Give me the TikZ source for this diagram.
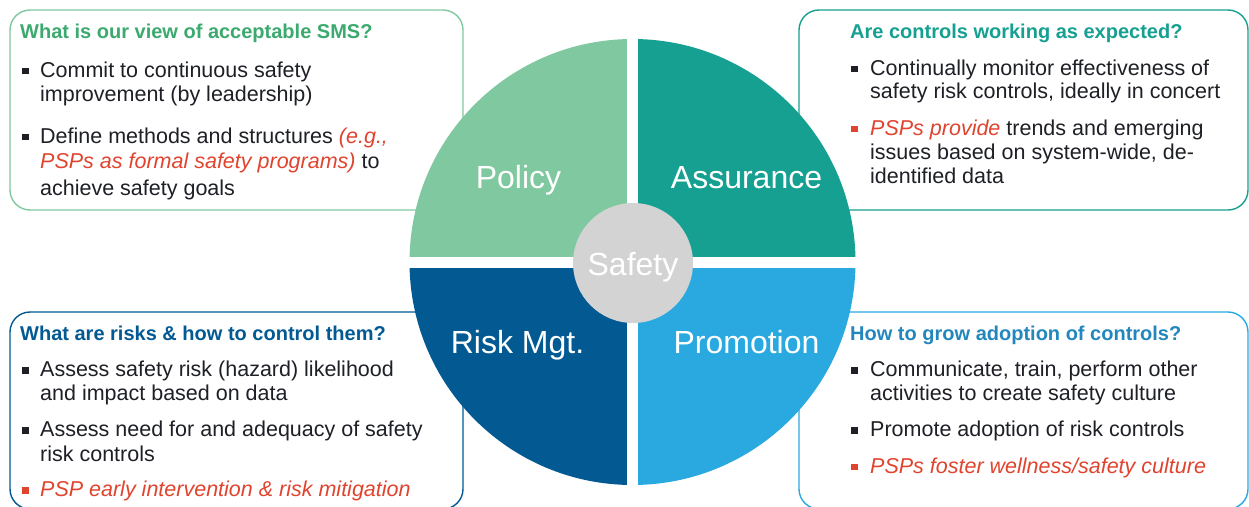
\documentclass[tikz,border=0pt]{standalone}
\usepackage{fontspec}
\setmainfont{Liberation Sans}
\usepackage{tikz}
\usepackage{xcolor}
\definecolor{polVerde}{RGB}{128,201,160}
\definecolor{titVerde}{RGB}{60,170,110}
\definecolor{assTeal}{RGB}{22,160,145}
\definecolor{riscoAzul}{RGB}{3,90,147}
\definecolor{promoAzul}{RGB}{41,169,224}
\definecolor{titAzul}{RGB}{35,135,190}
\definecolor{hubCinza}{RGB}{211,211,211}
\definecolor{pspVermelho}{RGB}{224,68,46}
\definecolor{texto}{RGB}{30,32,38}
\newcommand{\psp}[1]{{\color{pspVermelho}\itshape #1}}

\tikzset{
  caixa/.style={rounded corners=20pt, line width=1.4pt, fill=white},
  titulo/.style={font=\fontsize{20}{24}\selectfont\bfseries, anchor=base west, inner sep=0pt},
  corpo/.style={font=\fontsize{21.5}{26}\selectfont, text=texto, anchor=base west, inner sep=0pt},
  quad/.style={font=\fontsize{32}{36}\selectfont, text=white, anchor=base, inner sep=0pt},
}

\begin{document}
\begin{tikzpicture}[x=1pt, y=-1pt]
    \useasboundingbox (0,0) rectangle (1249,506);
    % Caixas
    \draw[caixa, draw=polVerde]  (10,10)  rectangle (463,210);
    \draw[caixa, draw=assTeal]   (799,10) rectangle (1248,210);
    \draw[caixa, draw=riscoAzul] (10,312) rectangle (463,509);
    \draw[caixa, draw=promoAzul] (799,312) rectangle (1248,509);
    % Quadrantes
    \begin{scope}
        \clip (632.5,262) circle (223pt);
        \fill[polVerde]  (400,30)    rectangle (627,256.5);
        \fill[assTeal]   (638,30)    rectangle (870,256.5);
        \fill[riscoAzul] (400,267.5) rectangle (627,495);
        \fill[promoAzul] (638,267.5) rectangle (870,495);
    \end{scope}
    \node[circle, fill=hubCinza, minimum size=120pt, inner sep=0pt] (hub) at (633,263) {};
    \node[quad] (hubtxt) at (633,275) {Safety};
    \node[quad] (policy) at (518.5,188) {Policy};
    \node[quad] (assurance) at (746.5,188) {Assurance};
    \node[quad] (riskmgt) at (517.5,353) {Risk Mgt.};
    \node[quad] (promotion) at (746.5,353) {Promotion};
    % Titulos
    \node[titulo, text=titVerde]  (polTit)   at (20,38)   {What is our view of acceptable SMS?};
    \node[titulo, text=assTeal]   (assTit)   at (850,38)  {Are controls working as expected?};
    \node[titulo, text=riscoAzul] (riscoTit) at (20,340)  {What are risks \& how to control them?};
    \node[titulo, text=titAzul]   (promoTit) at (850,340) {How to grow adoption of controls?};
    % Textos
    \foreach \y/\t [count=\i] in {77/{Commit to continuous safety}, 101/{improvement (by leadership)},
        143/{Define methods and structures \psp{(e.g.,}}, 168.5/{\psp{PSPs as formal safety programs)} to},
        195/{achieve safety goals}}
        \node[corpo] (pol\i) at (40,\y) {\t};
    \foreach \y/\t [count=\i] in {75/{Continually monitor effectiveness of}, 98.5/{safety risk controls, ideally in concert},
        135/{\psp{PSPs provide} trends and emerging}, 159/{issues based on system-wide, de-},
        183.5/{identified data}}
        \node[corpo] (ass\i) at (870,\y) {\t};
    \foreach \y/\t [count=\i] in {376.5/{Assess safety risk (hazard) likelihood}, 400/{and impact based on data},
        436.5/{Assess need for and adequacy of safety}, 461/{risk controls},
        496.5/{\psp{PSP early intervention \& risk mitigation}}}
        \node[corpo] (risco\i) at (40,\y) {\t};
    \foreach \y/\t [count=\i] in {376.5/{Communicate, train, perform other}, 400/{activities to create safety culture},
        436.5/{Promote adoption of risk controls}, 473.3/{\psp{PSPs foster wellness/safety culture}}}
        \node[corpo] (promo\i) at (870,\y) {\t};
    % Marcadores
    \foreach \x/\y/\c in {22/77/texto, 22/143/texto, 851/75/texto, 851/135/pspVermelho,
        22/376.5/texto, 22/436.5/texto, 22/496.5/pspVermelho,
        851/376.5/texto, 851/436.5/texto, 851/473.3/pspVermelho}
        \fill[\c] (\x,\y-3) rectangle ++(6.5,-6.5);
\end{tikzpicture}
\end{document}
